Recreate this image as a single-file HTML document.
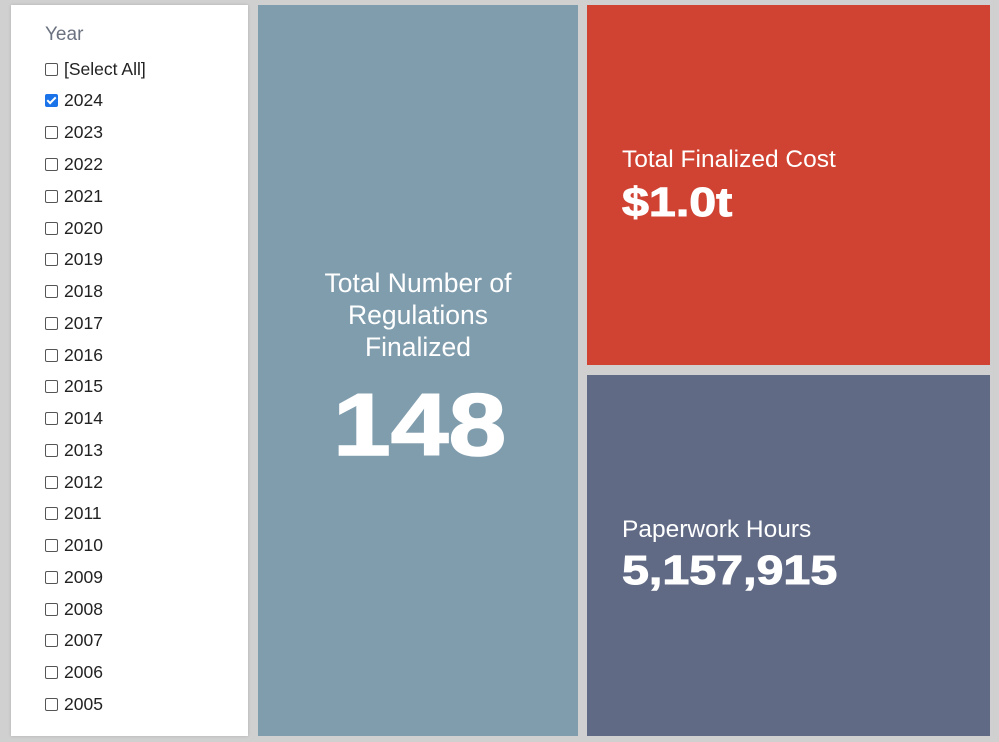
<!DOCTYPE html>
<html><head><style>
body{margin:0;width:999px;height:742px;background:#d0d0d0;position:relative;overflow:hidden;font-family:"Liberation Sans",Arial,sans-serif}
.p{position:absolute}
#l{left:11px;top:5px;width:237px;height:731px;background:#fff;box-shadow:0 0 3px rgba(0,0,0,.15)}
#b{left:258px;top:5px;width:320px;height:731px;background:#809dae;color:#fff;text-align:center}
#r{left:587px;top:5px;width:403px;height:360px;background:#d04231;color:#fff}
#s{left:587px;top:375px;width:403px;height:361px;background:#606a85;color:#fff}
.row{position:absolute;left:45px;font-size:17.5px;color:#222;height:20px;line-height:20px}
.cb{display:inline-block;width:11px;height:11px;border:1px solid #555;border-radius:2px;vertical-align:-1px;margin-right:6px;background:#fff}
.ck{background:#1a73e8;border-color:#1a73e8;position:relative}
.ck:after{content:"";position:absolute;left:3px;top:0px;width:3px;height:7px;border:solid #fff;border-width:0 2px 2px 0;transform:rotate(45deg)}
.big{display:inline-block;font-weight:900;transform:scaleX(1.18);transform-origin:left;-webkit-text-stroke:1.5px #fff}
</style></head><body>
<div class="p" id="l">
<div style="position:absolute;left:34px;top:19px;font-size:19px;color:#6b7280">Year</div>
</div>
<div class="row" style="top:59px"><span class="cb"></span>[Select All]</div>
<div class="row" style="top:90px"><span class="cb ck"></span>2024</div>
<div class="row" style="top:122px"><span class="cb"></span>2023</div>
<div class="row" style="top:154px"><span class="cb"></span>2022</div>
<div class="row" style="top:186px"><span class="cb"></span>2021</div>
<div class="row" style="top:218px"><span class="cb"></span>2020</div>
<div class="row" style="top:249px"><span class="cb"></span>2019</div>
<div class="row" style="top:281px"><span class="cb"></span>2018</div>
<div class="row" style="top:313px"><span class="cb"></span>2017</div>
<div class="row" style="top:345px"><span class="cb"></span>2016</div>
<div class="row" style="top:376px"><span class="cb"></span>2015</div>
<div class="row" style="top:408px"><span class="cb"></span>2014</div>
<div class="row" style="top:440px"><span class="cb"></span>2013</div>
<div class="row" style="top:472px"><span class="cb"></span>2012</div>
<div class="row" style="top:503px"><span class="cb"></span>2011</div>
<div class="row" style="top:535px"><span class="cb"></span>2010</div>
<div class="row" style="top:567px"><span class="cb"></span>2009</div>
<div class="row" style="top:599px"><span class="cb"></span>2008</div>
<div class="row" style="top:630px"><span class="cb"></span>2007</div>
<div class="row" style="top:662px"><span class="cb"></span>2006</div>
<div class="row" style="top:694px"><span class="cb"></span>2005</div>
<div class="p" id="b">
<div style="position:absolute;left:0;right:0;top:262px;font-size:26.5px;line-height:32px">Total Number of<br>Regulations<br>Finalized</div>
<div style="position:absolute;left:75px;top:370px;font-size:88px;line-height:100px;text-align:left"><span class="big">148</span></div>
</div>
<div class="p" id="r">
<div style="position:absolute;left:35px;top:141px;font-size:24.5px">Total Finalized Cost</div>
<div style="position:absolute;left:35px;top:174px;font-size:41px"><span class="big" style="-webkit-text-stroke:1px #fff">$1.0t</span></div>
</div>
<div class="p" id="s">
<div style="position:absolute;left:35px;top:141px;font-size:24.5px">Paperwork Hours</div>
<div style="position:absolute;left:35px;top:172px;font-size:41px"><span class="big" style="-webkit-text-stroke:1px #fff">5,157,915</span></div>
</div>
</body></html>
